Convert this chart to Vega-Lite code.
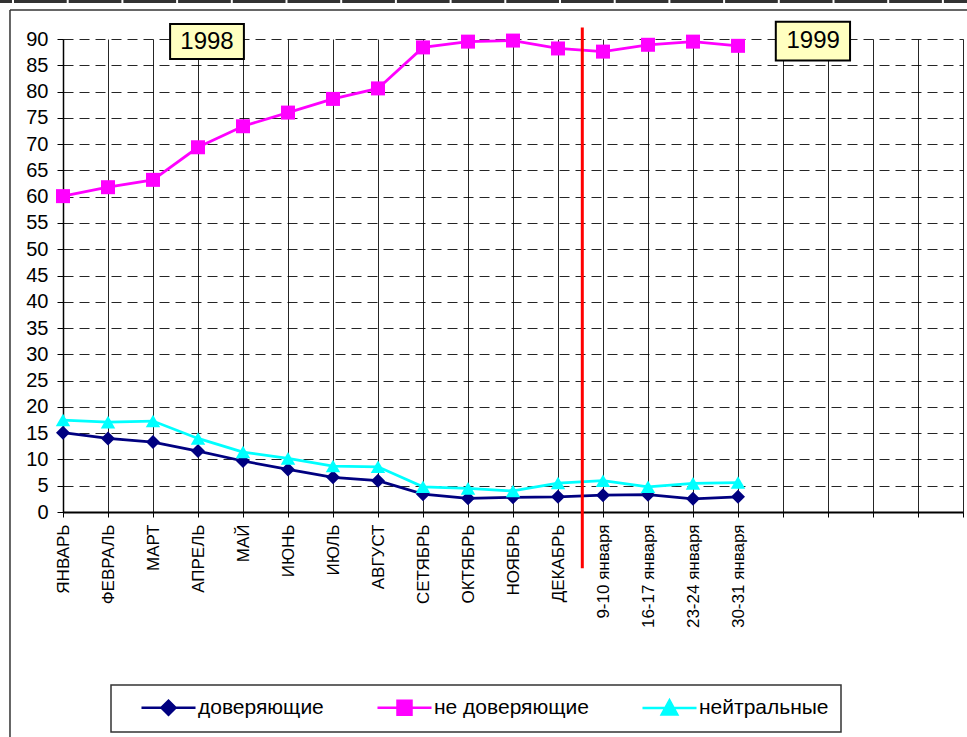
{
  "$schema": "https://vega.github.io/schema/vega-lite/v6.json",
  "width": 900,
  "height": 473,
  "autosize": {"type": "none"},
  "padding": {"left": 63, "top": 39, "right": 4, "bottom": 225},
  "background": "white",
  "config": {
    "font": "Liberation Sans",
    "view": {"stroke": null},
    "axisX": {
      "labelAngle": -90,
      "labelFontSize": 17,
      "labelColor": "#000",
      "labelPadding": 7,
      "labelFlush": false,
      "labelOverlap": false,
      "tickSize": 5,
      "tickColor": "#000",
      "domainColor": "#000",
      "domainWidth": 2,
      "grid": true,
      "gridColor": "#000",
      "gridWidth": 1,
      "gridOpacity": 0.85
    },
    "axisY": {
      "labelFontSize": 20,
      "labelColor": "#000",
      "labelPadding": 9,
      "labelFlush": false,
      "labelOverlap": false,
      "tickSize": 6,
      "tickColor": "#000",
      "domainColor": "#000",
      "domainWidth": 1.5,
      "grid": true,
      "gridColor": "#000",
      "gridDash": [10, 6],
      "gridWidth": 1,
      "gridOpacity": 0.85
    }
  },
  "datasets": {
    "poll": [
      {"n": 0, "period": "ЯНВАРЬ", "доверяющие": 15.1, "не доверяющие": 60.1, "нейтральные": 17.5},
      {"n": 1, "period": "ФЕВРАЛЬ", "доверяющие": 14.0, "не доверяющие": 61.8, "нейтральные": 17.1},
      {"n": 2, "period": "МАРТ", "доверяющие": 13.3, "не доверяющие": 63.2, "нейтральные": 17.3},
      {"n": 3, "period": "АПРЕЛЬ", "доверяющие": 11.6, "не доверяющие": 69.4, "нейтральные": 14.0},
      {"n": 4, "period": "МАЙ", "доверяющие": 9.7, "не доверяющие": 73.4, "нейтральные": 11.4},
      {"n": 5, "period": "ИЮНЬ", "доверяющие": 8.1, "не доверяющие": 76.0, "нейтральные": 10.2},
      {"n": 6, "period": "ИЮЛЬ", "доверяющие": 6.6, "не доверяющие": 78.6, "нейтральные": 8.75},
      {"n": 7, "period": "АВГУСТ", "доверяющие": 5.95, "не доверяющие": 80.6, "нейтральные": 8.6},
      {"n": 8, "period": "СЕТЯБРЬ", "доверяющие": 3.4, "не доверяющие": 88.4, "нейтральные": 4.8},
      {"n": 9, "period": "ОКТЯБРЬ", "доверяющие": 2.6, "не доверяющие": 89.5, "нейтральные": 4.5},
      {"n": 10, "period": "НОЯБРЬ", "доверяющие": 2.8, "не доверяющие": 89.7, "нейтральные": 4.0},
      {"n": 11, "period": "ДЕКАБРЬ", "доверяющие": 2.9, "не доверяющие": 88.2, "нейтральные": 5.5},
      {"n": 12, "period": "9-10 января", "доверяющие": 3.2, "не доверяющие": 87.6, "нейтральные": 5.95},
      {"n": 13, "period": "16-17 января", "доверяющие": 3.3, "не доверяющие": 88.9, "нейтральные": 4.8},
      {"n": 14, "period": "23-24 января", "доверяющие": 2.5, "не доверяющие": 89.5, "нейтральные": 5.45},
      {"n": 15, "period": "30-31 января", "доверяющие": 2.9, "не доверяющие": 88.7, "нейтральные": 5.6}
    ],
    "years": [
      {"label": "1998", "xc": 3.2, "xa": 2.38, "xb": 4.02, "yc": 89.5, "ya": 92.85, "yb": 86.2},
      {"label": "1999", "xc": 16.67, "xa": 15.84, "xb": 17.49, "yc": 89.6, "ya": 93.3, "yb": 85.9}
    ],
    "frame": [
      {"xa": -1.178, "xb": 21.5, "ya": 95.5, "yb": 95.5},
      {"xa": -1.178, "xb": -1.178, "ya": 95.5, "yb": -50}
    ],
    "sheet": [
      {"xa": -1.4, "xb": 21.5, "ya": 97.14}
    ],
    "divider": [
      {"x": 11.54, "ya": 92.2, "yb": -10.7}
    ]
  },
  "layer": [
    {
      "data": {"name": "poll"},
      "transform": [{"fold": ["доверяющие", "не доверяющие", "нейтральные"], "as": ["series", "value"]}],
      "mark": {"type": "line", "strokeWidth": 2.75},
      "encoding": {
        "x": {
          "field": "n", "type": "quantitative", "title": null,
          "scale": {"domain": [0, 20], "nice": false, "zero": false},
          "axis": {
            "values": [0,1,2,3,4,5,6,7,8,9,10,11,12,13,14,15,16,17,18,19,20],
            "labelExpr": "datum.value < 16 ? ['ЯНВАРЬ','ФЕВРАЛЬ','МАРТ','АПРЕЛЬ','МАЙ','ИЮНЬ','ИЮЛЬ','АВГУСТ','СЕТЯБРЬ','ОКТЯБРЬ','НОЯБРЬ','ДЕКАБРЬ','9-10 января','16-17 января','23-24 января','30-31 января'][datum.value] : ''"
          }
        },
        "y": {
          "field": "value", "type": "quantitative", "title": null,
          "scale": {"domain": [0, 90], "nice": false},
          "axis": {"values": [0,5,10,15,20,25,30,35,40,45,50,55,60,65,70,75,80,85,90]}
        },
        "color": {
          "field": "series", "type": "nominal",
          "scale": {"domain": ["доверяющие", "не доверяющие", "нейтральные"], "range": ["#000080", "#FF00FF", "#00FFFF"]},
          "legend": {
            "title": null,
            "orient": "none",
            "legendX": 48,
            "legendY": 646,
            "direction": "horizontal",
            "columns": 3,
            "columnPadding": 35,
            "padding": 12,
            "strokeColor": "#333333",
            "fillColor": "#ffffff",
            "labelFontSize": 21,
            "labelColor": "#000",
            "labelFont": "Liberation Sans",
            "symbolSize": 196,
            "symbolStrokeWidth": 2.5,
            "symbolOffset": 35,
            "labelOffset": 19,
            "encode": {
              "symbols": {
                "update": {
                  "shape": {"signal": "datum.value === 'доверяющие' ? 'M-3.86,0H3.86M-1,0L0,-1L1,0L0,1Z' : datum.value === 'не доверяющие' ? 'M-3.86,0H3.86M-1,-1H1V1H-1Z' : 'M-3.86,0H3.86M-1.1,0.9L0,-1.1L1.1,0.9Z'"},
                  "fill": {"signal": "scale('color', datum.value)"},
                  "stroke": {"signal": "scale('color', datum.value)"},
                  "strokeWidth": {"value": 2.5},
                  "opacity": {"value": 1},
                  "strokeDash": {"value": []}
                }
              },
              "legend": {"update": {"strokeWidth": {"value": 1.5}}}
            }
          }
        }
      }
    },
    {
      "data": {"name": "poll"},
      "mark": {"type": "point", "filled": true, "opacity": 1, "size": 196, "shape": "diamond", "color": "#000080"},
      "encoding": {
        "x": {"field": "n", "type": "quantitative", "title": null, "axis": {"values": [0,1,2,3,4,5,6,7,8,9,10,11,12,13,14,15,16,17,18,19,20]}},
        "y": {"field": "доверяющие", "type": "quantitative", "title": null, "axis": {"values": [0,5,10,15,20,25,30,35,40,45,50,55,60,65,70,75,80,85,90]}}
      }
    },
    {
      "data": {"name": "poll"},
      "mark": {"type": "point", "filled": true, "opacity": 1, "size": 196, "shape": "square", "color": "#FF00FF"},
      "encoding": {
        "x": {"field": "n", "type": "quantitative", "title": null, "axis": {"values": [0,1,2,3,4,5,6,7,8,9,10,11,12,13,14,15,16,17,18,19,20]}},
        "y": {"field": "не доверяющие", "type": "quantitative", "title": null, "axis": {"values": [0,5,10,15,20,25,30,35,40,45,50,55,60,65,70,75,80,85,90]}}
      }
    },
    {
      "data": {"name": "poll"},
      "mark": {"type": "point", "filled": true, "opacity": 1, "size": 210, "shape": "triangle-up", "color": "#00FFFF"},
      "encoding": {
        "x": {"field": "n", "type": "quantitative", "title": null, "axis": {"values": [0,1,2,3,4,5,6,7,8,9,10,11,12,13,14,15,16,17,18,19,20]}},
        "y": {"field": "нейтральные", "type": "quantitative", "title": null, "axis": {"values": [0,5,10,15,20,25,30,35,40,45,50,55,60,65,70,75,80,85,90]}}
      }
    },
    {
      "data": {"name": "divider"},
      "mark": {"type": "rule", "color": "#FF0000", "strokeWidth": 3},
      "encoding": {
        "x": {"field": "x", "type": "quantitative", "title": null, "axis": {"values": [0,1,2,3,4,5,6,7,8,9,10,11,12,13,14,15,16,17,18,19,20]}},
        "y": {"field": "ya", "type": "quantitative", "title": null, "axis": {"values": [0,5,10,15,20,25,30,35,40,45,50,55,60,65,70,75,80,85,90]}},
        "y2": {"field": "yb"}
      }
    },
    {
      "data": {"name": "years"},
      "mark": {"type": "rect", "fill": "#FFFFC0", "stroke": "#000", "strokeWidth": 2},
      "encoding": {
        "x": {"field": "xa", "type": "quantitative", "title": null, "axis": {"values": [0,1,2,3,4,5,6,7,8,9,10,11,12,13,14,15,16,17,18,19,20]}},
        "x2": {"field": "xb"},
        "y": {"field": "ya", "type": "quantitative", "title": null, "axis": {"values": [0,5,10,15,20,25,30,35,40,45,50,55,60,65,70,75,80,85,90]}},
        "y2": {"field": "yb"}
      }
    },
    {
      "data": {"name": "years"},
      "mark": {"type": "text", "fontSize": 24, "color": "#000", "align": "center", "baseline": "middle", "font": "Liberation Sans"},
      "encoding": {
        "x": {"field": "xc", "type": "quantitative", "title": null, "axis": {"values": [0,1,2,3,4,5,6,7,8,9,10,11,12,13,14,15,16,17,18,19,20]}},
        "y": {"field": "yc", "type": "quantitative", "title": null, "axis": {"values": [0,5,10,15,20,25,30,35,40,45,50,55,60,65,70,75,80,85,90]}},
        "text": {"field": "label"}
      }
    },
    {
      "data": {"name": "frame"},
      "mark": {"type": "rule", "color": "#333333", "strokeWidth": 1.5},
      "encoding": {
        "x": {"field": "xa", "type": "quantitative", "title": null, "axis": {"values": [0,1,2,3,4,5,6,7,8,9,10,11,12,13,14,15,16,17,18,19,20]}},
        "x2": {"field": "xb"},
        "y": {"field": "ya", "type": "quantitative", "title": null, "axis": {"values": [0,5,10,15,20,25,30,35,40,45,50,55,60,65,70,75,80,85,90]}},
        "y2": {"field": "yb"}
      }
    },
    {
      "data": {"name": "sheet"},
      "mark": {"type": "rule", "color": "#333333", "strokeWidth": 3, "strokeDash": [52.7, 2], "strokeDashOffset": 40.7},
      "encoding": {
        "x": {"field": "xa", "type": "quantitative", "title": null, "axis": {"values": [0,1,2,3,4,5,6,7,8,9,10,11,12,13,14,15,16,17,18,19,20]}},
        "x2": {"field": "xb"},
        "y": {"field": "ya", "type": "quantitative", "title": null, "axis": {"values": [0,5,10,15,20,25,30,35,40,45,50,55,60,65,70,75,80,85,90]}}
      }
    }
  ]
}
